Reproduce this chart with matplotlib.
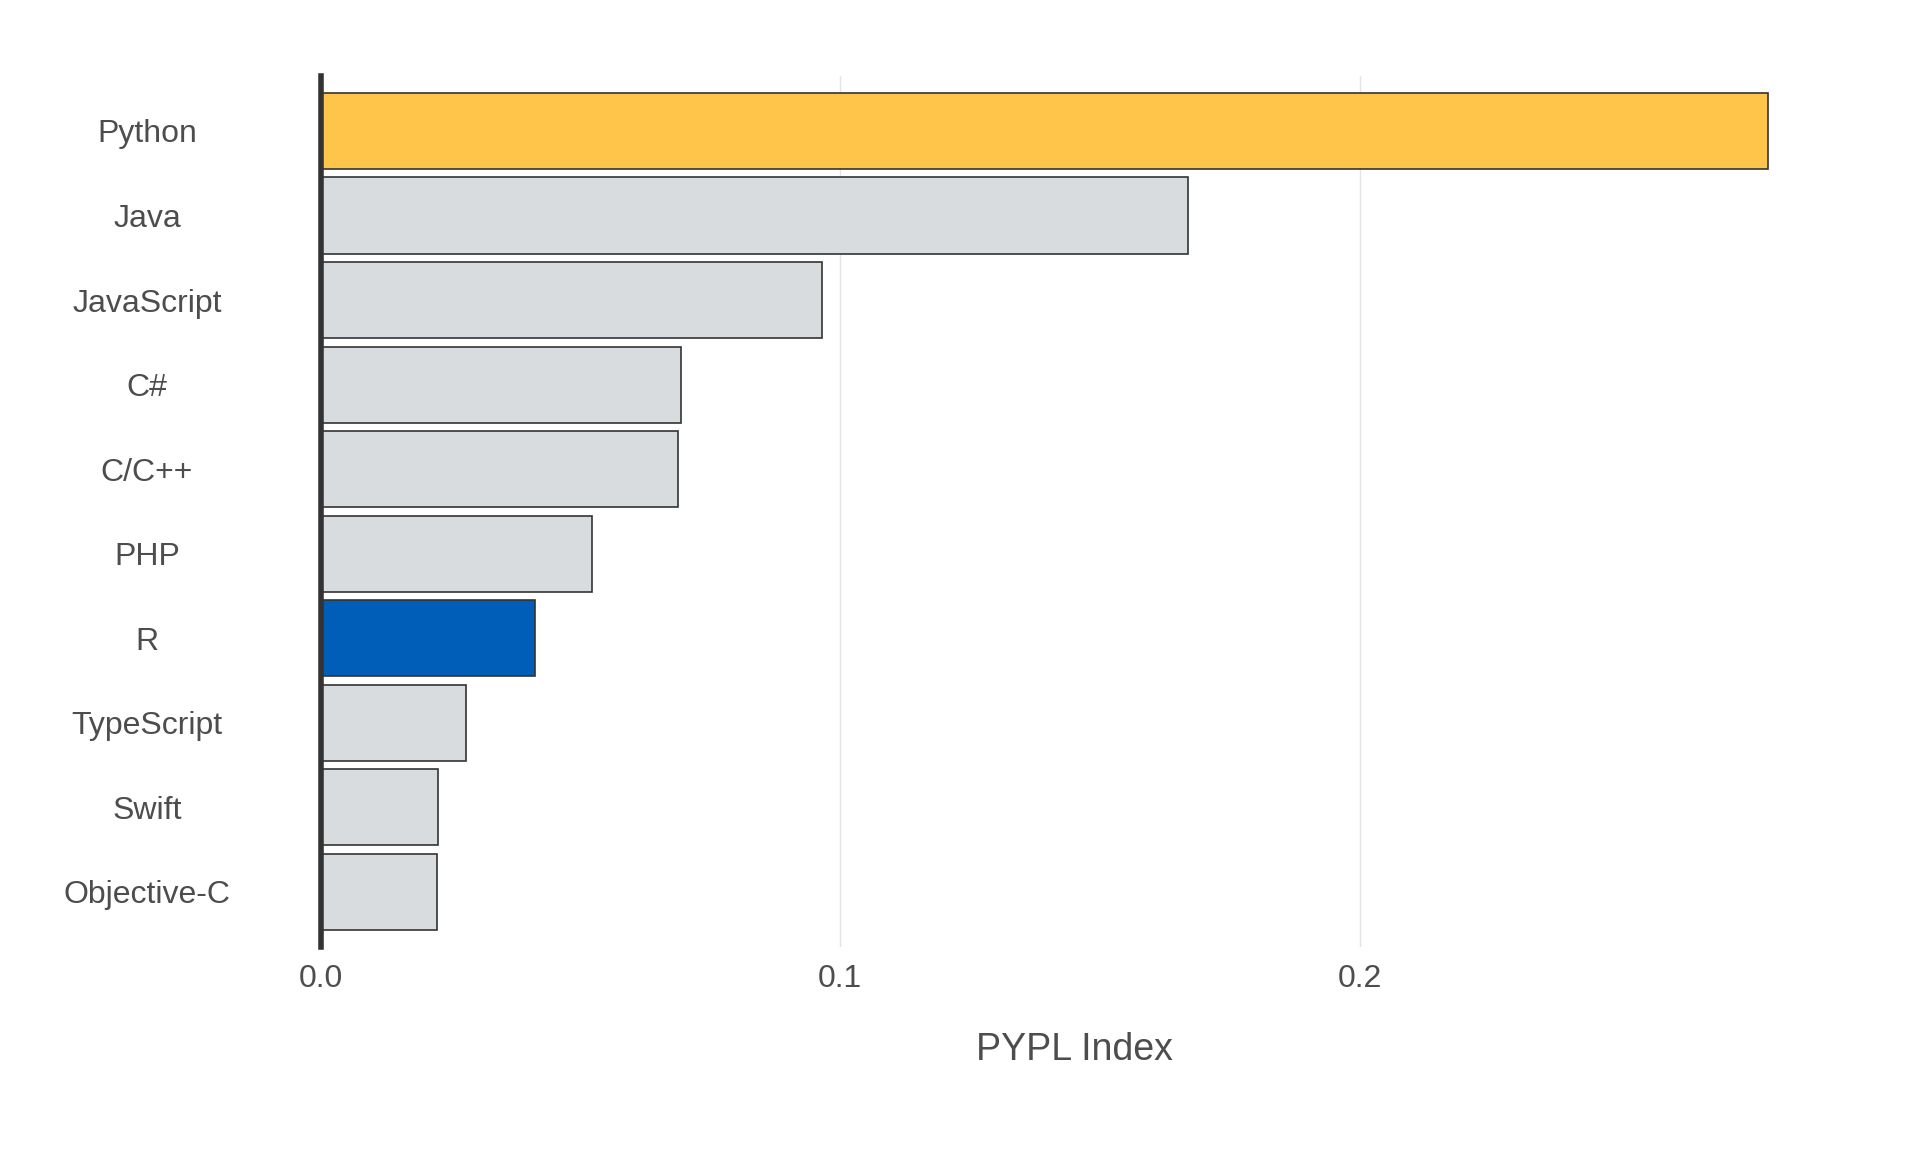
import matplotlib
matplotlib.use("Agg")
import matplotlib.pyplot as plt

languages = ["Python", "Java", "JavaScript", "C#", "C/C++", "PHP", "R",
             "TypeScript", "Swift", "Objective-C"]
pypl = [0.2784, 0.1668, 0.0964, 0.0694, 0.0688, 0.0522, 0.0413, 0.0279, 0.0226, 0.0224]
highlight = {"Python": "#FFC54A", "R": "#005EB8"}

plt.rcParams["font.family"] = ["Liberation Sans", "DejaVu Sans"]

fig = plt.figure(figsize=(19.2, 11.52), dpi=100)
ax = fig.add_axes([0.167, 0.178, 0.785, 0.756])

ypos = list(range(len(languages)))[::-1]
colors = [highlight.get(l, "#D9DCDF") for l in languages]
ax.barh(ypos, pypl, height=0.9, color=colors, edgecolor="#333333", linewidth=1.2, zorder=3)

ax.set_xlim(0, 0.29)
ax.set_ylim(-0.65, len(languages) - 0.35)
ax.set_xticks([0.0, 0.1, 0.2])
ax.set_xticklabels(["0.0", "0.1", "0.2"])
ax.set_yticks(ypos)
ax.set_yticklabels(languages)
for t in ax.get_yticklabels():
    t.set_horizontalalignment("center")
ax.tick_params(axis="y", length=0, pad=125, labelsize=23, labelcolor="#4D4D4D")
ax.tick_params(axis="x", length=0, pad=12, labelsize=23, labelcolor="#4D4D4D")
ax.grid(axis="x", color="#E5E5E5", linewidth=1, zorder=0)
for s in ["top", "right", "bottom"]:
    ax.spines[s].set_visible(False)
ax.spines["left"].set_linewidth(4)
ax.spines["left"].set_color("#333333")
ax.spines["left"].set_zorder(4)
ax.set_xlabel("PYPL Index", fontsize=27, color="#4D4D4D", labelpad=28)

fig.savefig("out.png", dpi=100)
